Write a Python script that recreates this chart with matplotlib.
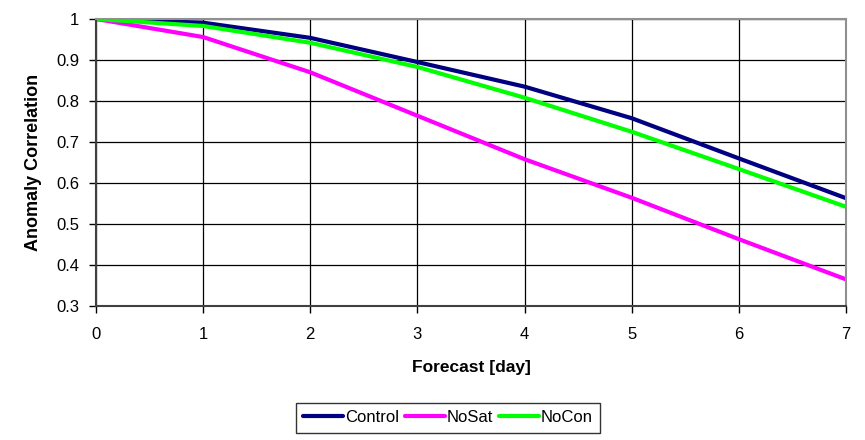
import matplotlib
matplotlib.use('Agg')
import matplotlib.pyplot as plt

plt.rcParams['font.family'] = ['Liberation Sans', 'DejaVu Sans']

days = [0, 1, 2, 3, 4, 5, 6, 7]
control = [1.0, 0.991, 0.954, 0.895, 0.835, 0.758, 0.660, 0.563]
nosat = [1.0, 0.956, 0.870, 0.764, 0.658, 0.564, 0.463, 0.365]
nocon = [1.0, 0.983, 0.942, 0.883, 0.808, 0.725, 0.634, 0.542]

series = [('Control', control, '#000080'),
          ('NoSat', nosat, '#FF00FF'),
          ('NoCon', nocon, '#00FF00')]

fig = plt.figure(figsize=(8.65, 4.4), dpi=100)
ax = fig.add_axes([96 / 865, 134 / 440, 750 / 865, 287 / 440])

for name, vals, col in series:
    ax.plot(days, vals, color=col, lw=3, label=name, solid_capstyle='round')

ax.set_xlim(0, 7)
ax.set_ylim(0.3, 1.0)
ax.set_xticks(days)
ax.set_yticks([0.3, 0.4, 0.5, 0.6, 0.7, 0.8, 0.9, 1.0])
ax.set_yticklabels(['0.3', '0.4', '0.5', '0.6', '0.7', '0.8', '0.9', '1'])
ax.grid(True, color='black', lw=0.9)
ax.set_axisbelow(True)
ax.tick_params(direction='out', length=5, width=1, labelsize=12, colors='black')
ax.tick_params(axis='x', pad=10)
ax.tick_params(axis='y', pad=7)

for side in ['top', 'right']:
    ax.spines[side].set_color('#909090')
    ax.spines[side].set_linewidth(1.5)
ax.spines['left'].set_color('#404040')
ax.spines['left'].set_linewidth(1.5)
ax.spines['bottom'].set_color('#404040')
ax.spines['bottom'].set_linewidth(1.5)

ax.set_xlabel('Forecast [day]', fontsize=12.5, fontweight='bold', labelpad=13)
ax.set_ylabel('Anomaly Correlation', fontsize=13, fontweight='bold', labelpad=10)

leg = fig.legend(loc='center', bbox_to_anchor=(448 / 865, 1 - 417.5 / 440), ncol=3,
                 fontsize=12, frameon=True, fancybox=False, handlelength=2.4,
                 handletextpad=0.1, columnspacing=0.35, borderpad=0.45,
                 borderaxespad=0)
leg.get_frame().set_edgecolor('black')
leg.get_frame().set_linewidth(1)

fig.savefig('out.png', dpi=100)
